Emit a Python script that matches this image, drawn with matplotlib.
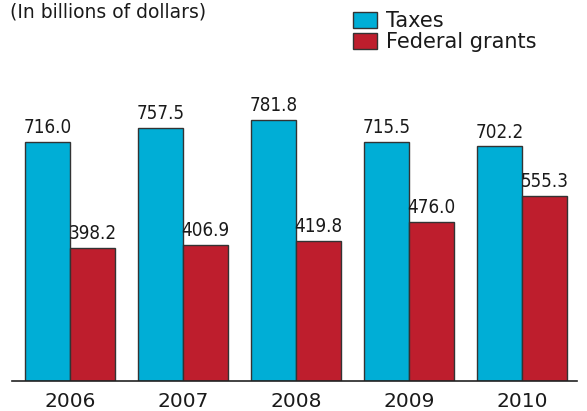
import numpy as np
import matplotlib.pyplot as plt
from matplotlib.patches import Patch

years = ['2006', '2007', '2008', '2009', '2010']
taxes = [716.0, 757.5, 781.8, 715.5, 702.2]
grants = [398.2, 406.9, 419.8, 476.0, 555.3]

blue = '#00AED6'
red = '#BE1E2D'
edge = '#333333'
font = 'DejaVu Sans'

fig = plt.figure(figsize=(5.87, 4.11), dpi=100)
ax = fig.add_axes([12 / 587, 30 / 411, 565 / 587, 334 / 411])

x = np.arange(len(years))
w = 0.4
b1 = ax.bar(x - w / 2, taxes, w, color=blue, edgecolor=edge, linewidth=1)
b2 = ax.bar(x + w / 2, grants, w, color=red, edgecolor=edge, linewidth=1)

for bars, vals in [(b1, taxes), (b2, grants)]:
    for r, v in zip(bars, vals):
        ax.annotate(f'{v:.1f}', (r.get_x() + r.get_width() / 2, v),
                    xytext=(0, 3.5), textcoords='offset points',
                    ha='center', va='bottom', fontsize=13.5,
                    family=font, stretch='condensed', color='#1a1a1a')

ax.set_xlim(-0.513, 4.487)
ax.set_ylim(0, 1000)
ax.set_xticks(x)
ax.set_xticklabels(years, fontsize=14.5, family=font, color='#1a1a1a')
ax.tick_params(axis='x', length=0, pad=8)
ax.set_yticks([])
for s in ['left', 'right', 'top']:
    ax.spines[s].set_visible(False)
ax.spines['bottom'].set_color('#222222')
ax.spines['bottom'].set_linewidth(1.2)

fig.text(10 / 587, 1 - 3 / 411, '(In billions of dollars)', ha='left', va='top',
         fontsize=13.5, family=font, color='#1a1a1a')

handles = [Patch(facecolor=blue, edgecolor=edge, label='Taxes'),
           Patch(facecolor=red, edgecolor=edge, label='Federal grants')]
leg = fig.legend(handles=handles, loc='upper left', bbox_to_anchor=(353 / 587, 1 - 11 / 411),
                 frameon=False, handlelength=1.15, handleheight=0.77,
                 handletextpad=0.45, labelspacing=0.05, borderaxespad=0, borderpad=0,
                 prop={'family': font, 'size': 15})
for t in leg.get_texts():
    t.set_color('#1a1a1a')

fig.savefig('out.png', dpi=100)
